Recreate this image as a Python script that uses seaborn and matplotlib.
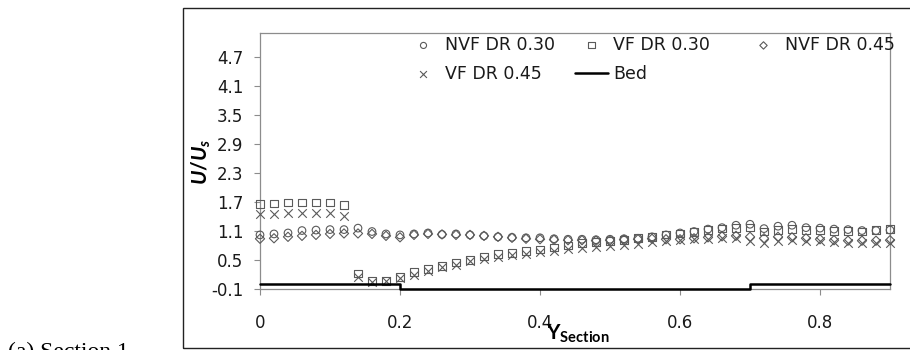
import matplotlib
matplotlib.use("Agg")
import matplotlib.pyplot as plt
import seaborn as sns
import pandas as pd
from matplotlib.patches import Rectangle

# ---------------- data ----------------
y_section = [0.00, 0.02, 0.04, 0.06, 0.08, 0.10, 0.12, 0.14, 0.16, 0.18,
             0.20, 0.22, 0.24, 0.26, 0.28, 0.30, 0.32, 0.34, 0.36, 0.38,
             0.40, 0.42, 0.44, 0.46, 0.48, 0.50, 0.52, 0.54, 0.56, 0.58,
             0.60, 0.62, 0.64, 0.66, 0.68, 0.70, 0.72, 0.74, 0.76, 0.78,
             0.80, 0.82, 0.84, 0.86, 0.88, 0.90]

nvf_dr030 = [1.02, 1.04, 1.06, 1.11, 1.12, 1.13, 1.13, 1.16, 1.09, 1.04,
             1.02, 1.04, 1.06, 1.03, 1.04, 1.02, 1.00, 0.98, 0.97, 0.96,
             0.96, 0.94, 0.93, 0.93, 0.92, 0.93, 0.94, 0.95, 0.98, 1.02,
             1.06, 1.09, 1.14, 1.17, 1.22, 1.24, 1.15, 1.20, 1.22, 1.17,
             1.16, 1.14, 1.13, 1.11, 1.11, 1.12]

vf_dr030 = [1.66, 1.67, 1.69, 1.69, 1.69, 1.69, 1.64, 0.22, 0.06, 0.07,
            0.15, 0.25, 0.31, 0.38, 0.45, 0.50, 0.57, 0.62, 0.65, 0.69,
            0.72, 0.76, 0.80, 0.85, 0.87, 0.90, 0.92, 0.95, 0.98, 1.03,
            1.05, 1.08, 1.12, 1.15, 1.16, 1.17, 1.09, 1.12, 1.14, 1.12,
            1.12, 1.10, 1.10, 1.09, 1.12, 1.14]

nvf_dr045 = [0.94, 0.95, 0.98, 1.00, 1.02, 1.04, 1.05, 1.05, 1.04, 1.00,
             0.97, 1.02, 1.04, 1.03, 1.02, 1.02, 1.00, 0.98, 0.96, 0.94,
             0.93, 0.92, 0.91, 0.91, 0.90, 0.91, 0.92, 0.93, 0.94, 0.93,
             0.93, 0.95, 0.97, 0.99, 1.00, 0.98, 0.95, 0.98, 0.97, 0.95,
             0.93, 0.91, 0.90, 0.90, 0.90, 0.91]

vf_dr045 = [1.45, 1.45, 1.47, 1.47, 1.47, 1.47, 1.42, 0.14, 0.04, 0.06,
            0.13, 0.20, 0.28, 0.35, 0.40, 0.47, 0.53, 0.57, 0.60, 0.62,
            0.66, 0.69, 0.72, 0.74, 0.76, 0.79, 0.81, 0.84, 0.87, 0.90,
            0.91, 0.93, 0.94, 0.96, 0.95, 0.90, 0.86, 0.90, 0.92, 0.90,
            0.89, 0.88, 0.86, 0.85, 0.85, 0.85]

bed_x = [0.0, 0.2, 0.2, 0.7, 0.7, 0.9]
bed_y = [0.0, 0.0, -0.1, -0.1, 0.0, 0.0]

y_ticks = [-0.1, 0.5, 1.1, 1.7, 2.3, 2.9, 3.5, 4.1, 4.7]
y_tick_labels = ["-0.1", "0.5", "1.1", "1.7", "2.3", "2.9", "3.5", "4.1", "4.7"]
x_ticks = [0.0, 0.2, 0.4, 0.6, 0.8]
x_tick_labels = ["0", "0.2", "0.4", "0.6", "0.8"]

series_labels = ["NVF DR 0.30", "VF DR 0.30", "NVF DR 0.45", "VF DR 0.45", "Bed"]

# ---------------- style ----------------
sns.set_theme(style="white")
plt.rcParams["font.family"] = ["DejaVu Sans"]
plt.rcParams["mathtext.fontset"] = "custom"
plt.rcParams["mathtext.rm"] = "Lato:bold"
plt.rcParams["mathtext.bf"] = "Lato:bold"
plt.rcParams["mathtext.it"] = "Lato:bold:italic"

W, H = 910, 350
fig = plt.figure(figsize=(W / 100, H / 100), dpi=100)
ax = fig.add_axes([260 / W, 1 - 289 / H, 630 / W, 256 / H])

gray = "#5a5a5a"
df = pd.DataFrame({"y": y_section, "nvf30": nvf_dr030, "vf30": vf_dr030,
                   "nvf45": nvf_dr045, "vf45": vf_dr045})

sns.scatterplot(data=df, x="y", y="nvf30", marker="o", s=30, facecolor="none",
                edgecolor=gray, linewidth=0.8, ax=ax, legend=False,
                label=series_labels[0], clip_on=False, zorder=3)
sns.scatterplot(data=df, x="y", y="vf30", marker="s", s=30, facecolor="none",
                edgecolor=gray, linewidth=0.8, ax=ax, legend=False,
                label=series_labels[1], clip_on=False, zorder=3)
sns.scatterplot(data=df, x="y", y="nvf45", marker="D", s=22, facecolor="none",
                edgecolor=gray, linewidth=0.8, ax=ax, legend=False,
                label=series_labels[2], clip_on=False, zorder=3)
sns.scatterplot(data=df, x="y", y="vf45", marker="x", s=38, color=gray,
                linewidth=0.8, ax=ax, legend=False,
                label=series_labels[3], clip_on=False, zorder=3)
sns.lineplot(x=bed_x, y=bed_y, color="black", linewidth=1.8, sort=False,
             estimator=None, ax=ax, label=series_labels[4], legend=False,
             clip_on=False, zorder=4)

ax.set_xlim(0, 0.9)
ax.set_ylim(-0.1, 5.2)
ax.set_xticks(x_ticks)
ax.set_xticklabels(x_tick_labels)
ax.set_yticks(y_ticks)
ax.set_yticklabels(y_tick_labels)
ax.set_xlabel("")
ax.set_ylabel("")

for sp in ax.spines.values():
    sp.set_color("#8c8c8c")
    sp.set_linewidth(0.9)

ax.tick_params(axis="x", bottom=True, length=4, width=0.8, color="#8c8c8c",
               pad=14, labelsize=12, labelcolor="#1a1a1a")
ax.tick_params(axis="y", left=True, length=4, width=0.8, color="#8c8c8c",
               pad=8, labelsize=12, labelcolor="#1a1a1a")

# legend: three equal-width columns like the reference
handles, labels = ax.get_legend_handles_labels()
hmap = dict(zip(labels, handles))
columns = [(["NVF DR 0.30", "VF DR 0.45"], 407),
           (["VF DR 0.30", "Bed"], 575),
           (["NVF DR 0.45"], 747)]
legs = []
for keys, xpix in columns:
    lg = ax.legend([hmap[k] for k in keys], keys, ncol=1, frameon=False,
                   loc="upper left", bbox_to_anchor=(xpix / W, 1 - 36 / H),
                   bbox_transform=fig.transFigure, borderpad=0,
                   borderaxespad=0, handlelength=1.9, handletextpad=0.3,
                   labelspacing=0.62, fontsize=12.5, scatterpoints=1,
                   markerscale=0.8)
    for t in lg.get_texts():
        t.set_color("#1a1a1a")
    legs.append(lg)
for lg in legs[:-1]:
    ax.add_artist(lg)

# axis titles
fig.text(201 / W, 1 - 162 / H, r"$U/U_s$", rotation=90, ha="center",
         va="center", fontsize=15, color="black")
fig.text(578 / W, 1 - 334 / H, r"$\mathbf{Y_{Section}}$", ha="center",
         va="center", fontsize=15, color="black")

# outer chart frame
fig.patches.append(Rectangle((183 / W, 1 - 348 / H), 760 / W, 340 / H,
                             transform=fig.transFigure, fill=False,
                             edgecolor="#222222", linewidth=1.0))

# caption
fig.text(8 / W, -8 / H, "(a) Section 1", family=["Liberation Serif"],
         fontsize=17, ha="left", va="baseline", color="black")

fig.savefig("out.png", dpi=100)
